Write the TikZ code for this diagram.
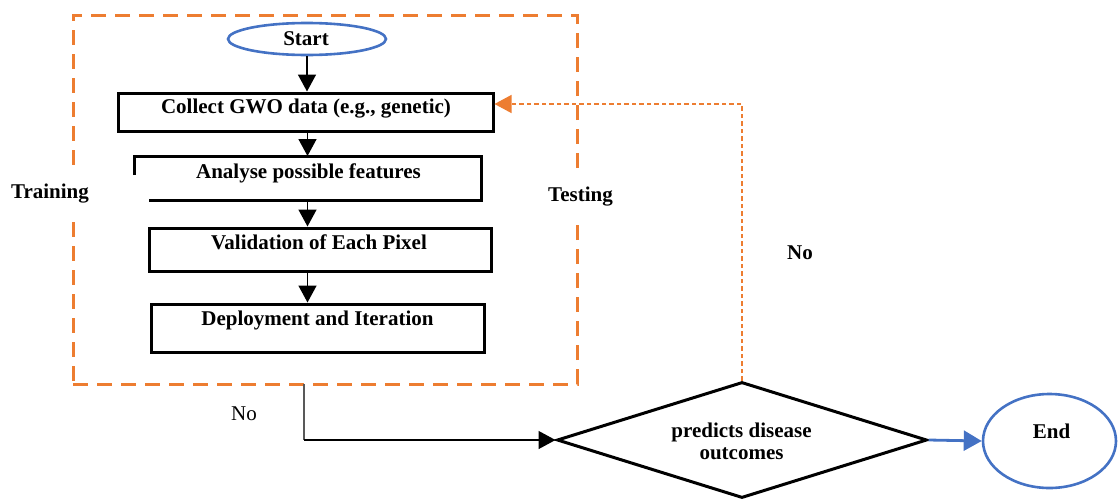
\documentclass[tikz,border=0pt]{standalone}
\usepackage{fontspec}
\setmainfont{Liberation Serif}
\usetikzlibrary{arrows.meta,shapes.geometric}
\definecolor{frameorange}{HTML}{ED7D31}
\definecolor{termblue}{HTML}{4472C4}
\definecolor{leadgray}{HTML}{595959}

\begin{document}
\begin{tikzpicture}[x=1pt,y=-1pt,
  txt/.style={font=\fontsize{21}{22}\selectfont\bfseries, inner sep=0pt, anchor=base},
  plaintxt/.style={font=\fontsize{21}{22}\selectfont, inner sep=0pt, anchor=base},
  stepbox/.style={rectangle, draw=black, line width=3pt, inner sep=0pt},
  term/.style={ellipse, draw=termblue, line width=2.6pt, inner sep=0pt},
  flow/.style={draw=black, line width=1.6pt, -{Triangle[width=18pt,length=17pt]}},
  stagebox/.style={rectangle, draw=frameorange, line width=3pt, dash pattern=on 15pt off 9pt, inner sep=0pt},
  stagelabel/.style={txt, fill=white, inner xsep=0pt, inner ysep=12pt},
  feedback/.style={draw=frameorange, line width=1.3pt, dash pattern=on 4.5pt off 3pt,
    -{Triangle[width=18pt,length=17pt]}},
  exitflow/.style={draw=termblue, line width=2.8pt, -{Triangle[width=20pt,length=18pt]}}
]
\useasboundingbox (0,0) rectangle (1118,498);

% training / testing stage frame
\node[stagebox, minimum width=504pt, minimum height=369pt] (stage) at (325,199.5) {};
\node[stagelabel] (trainLbl) at (50,198) {Training};
\node[stagelabel, inner ysep=14pt] (testLbl) at (580.5,201) {Testing};

% terminals
\node[term, minimum width=158pt, minimum height=32pt] (start) at (307,39) {};
\node[txt] (startTxt) at (306,45) {Start};
\node[term, minimum width=133pt, minimum height=94pt] (finish) at (1049.5,441) {};
\node[txt] (finishTxt) at (1051.5,438) {End};

% process steps
\node[stepbox, minimum width=375pt, minimum height=38pt] (collect) at (305.5,112) {};
\node[txt] (collectTxt) at (306,113) {Collect GWO data (e.g., genetic)};

\node[rectangle, draw=none, outer sep=0pt, inner sep=0pt,
      minimum width=347pt, minimum height=44pt] (analyse) at (307.5,178) {};
\draw[black, line width=3pt]
  ([yshift=-19pt]analyse.north west) -- (analyse.north west) -- (analyse.north east)
  -- (analyse.south east) -- ([xshift=15pt]analyse.south west);
\node[txt] (analyseTxt) at (308.5,178) {Analyse possible features};

\node[stepbox, minimum width=342pt, minimum height=43pt] (validation) at (320,249.5) {};
\node[txt] (validationTxt) at (319,249) {Validation of Each Pixel};

\node[stepbox, minimum width=333pt, minimum height=48pt] (deploy) at (317.5,328) {};
\node[txt] (deployTxt) at (317.5,325) {Deployment and Iteration};

% decision
\node[diamond, draw=black, line width=3pt, inner sep=0pt,
      minimum width=370pt, minimum height=116pt] (decision) at (742,440) {};
\node[txt] (decisionTxtA) at (741.5,437) {predicts disease};
\node[txt] (decisionTxtB) at (741.5,459) {outcomes};

% main flow
\draw[flow] (start.south) -- (start.south |- collect.north);
\draw[flow] (analyse.north |- collect.south) -- (analyse.north);
\draw[flow] (analyse.south) -- (analyse.south |- validation.north);
\draw[flow] (analyse.south |- validation.south) -- (analyse.south |- deploy.north);

% leaving the stage frame towards the decision
\coordinate (leave) at (304,384);
\coordinate (leaveTurn) at (leave |- decision.west);
\draw[draw=leadgray, line width=1.6pt] (leave) -- (leaveTurn);
\draw[flow, line width=1.4pt] (leaveTurn) -- (decision.west);
\node[plaintxt] (noLow) at (244,420) {No};

% retry loop back to data collection
\coordinate (loopTurn) at (742,104);
\draw[feedback] (decision.north) -- (loopTurn) -- (collect.east |- loopTurn);
\node[txt] (noHigh) at (800,259) {No};

% exit
\draw[exitflow] (decision.east) -- (finish.west);
\end{tikzpicture}
\end{document}
